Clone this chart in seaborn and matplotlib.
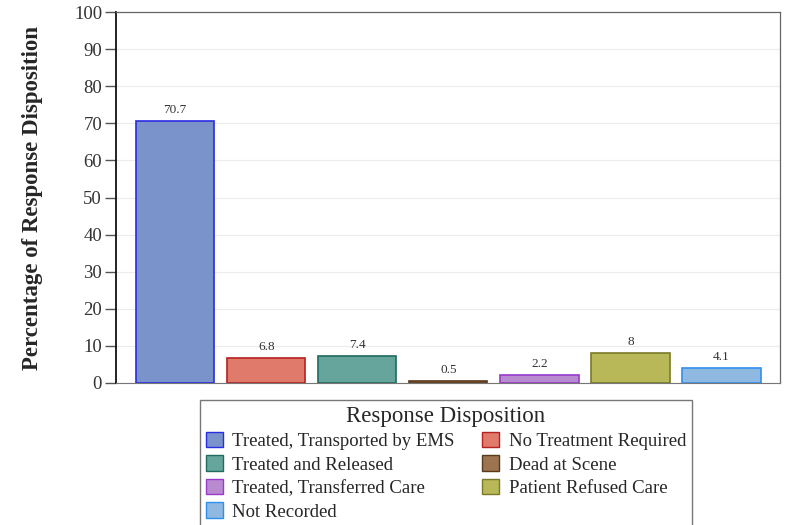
import pandas as pd
import seaborn as sns
import matplotlib.pyplot as plt
from matplotlib.patches import Patch

categories = ['Treated, Transported by EMS', 'No Treatment Required', 'Treated and Released',
              'Dead at Scene', 'Treated, Transferred Care', 'Patient Refused Care', 'Not Recorded']
values = [70.7, 6.8, 7.4, 0.5, 2.2, 8, 4.1]
labels = ['70.7', '6.8', '7.4', '0.5', '2.2', '8', '4.1']

fills = ['#7b93cb', '#e07b6b', '#66a59b', '#9c7550', '#b88bd0', '#b8b858', '#8fb9e0']
edges = ['#2b2be0', '#b52020', '#1f6b60', '#5a3a1a', '#9a3acc', '#7a7a2a', '#2f8fee']

df = pd.DataFrame({'Disposition': categories, 'Percent': values})

sns.set_style('white')
plt.rcParams['font.family'] = ['Liberation Serif', 'DejaVu Serif']

fig = plt.figure(figsize=(7.86, 5.25), dpi=100)
ax = fig.add_axes([0.1476, 0.2705, 0.8444, 0.7065])

sns.barplot(data=df, x='Disposition', y='Percent', hue='Disposition',
            palette=fills, saturation=1, dodge=False, legend=False, width=0.86, ax=ax)

for bar, ec in zip(ax.patches, edges):
    bar.set_edgecolor(ec)
    bar.set_linewidth(1.2)

for i, (v, t) in enumerate(zip(values, labels)):
    ax.text(i, v + 1.3, t, ha='center', va='bottom', fontsize=9.5, color='#333333')

ax.set_ylim(0, 100)
ax.set_xlim(-0.65, 6.64)
ax.set_yticks(range(0, 101, 10))
ax.set_xticks([])
ax.set_xlabel('')
ax.set_ylabel('Percentage of Response Disposition', fontsize=16.5, fontweight='bold', labelpad=22)
ax.tick_params(axis='y', labelsize=13.5, left=True, length=8, width=1, color='#555555',
               labelcolor='#333333', pad=2)
ax.yaxis.grid(True, color='#ececec', linewidth=0.8)
ax.set_axisbelow(True)

ax.spines['left'].set_color('#111111')
ax.spines['left'].set_linewidth(1.3)
ax.spines['bottom'].set_color('#777777')
for s in ['top', 'right']:
    ax.spines[s].set_color('#666666')
    ax.spines[s].set_linewidth(0.9)

# legend is filled row by row in the reference; matplotlib fills columns
order = [0, 2, 4, 6, 1, 3, 5]
handles = [Patch(facecolor=fills[k], edgecolor=edges[k], label=categories[k]) for k in order]
leg = fig.legend(handles=handles, title='Response Disposition', ncol=2, loc='upper left',
                 bbox_to_anchor=(200 / 786, 1 - 400 / 525), fontsize=13.5, title_fontsize=16.5,
                 frameon=True, fancybox=False, edgecolor='#555555',
                 handlelength=0.9, handleheight=0.9, handletextpad=0.5,
                 columnspacing=1.5, labelspacing=0.28, borderpad=0.3, borderaxespad=0)
leg.get_frame().set_linewidth(1.0)

fig.savefig('out.png', dpi=100)
